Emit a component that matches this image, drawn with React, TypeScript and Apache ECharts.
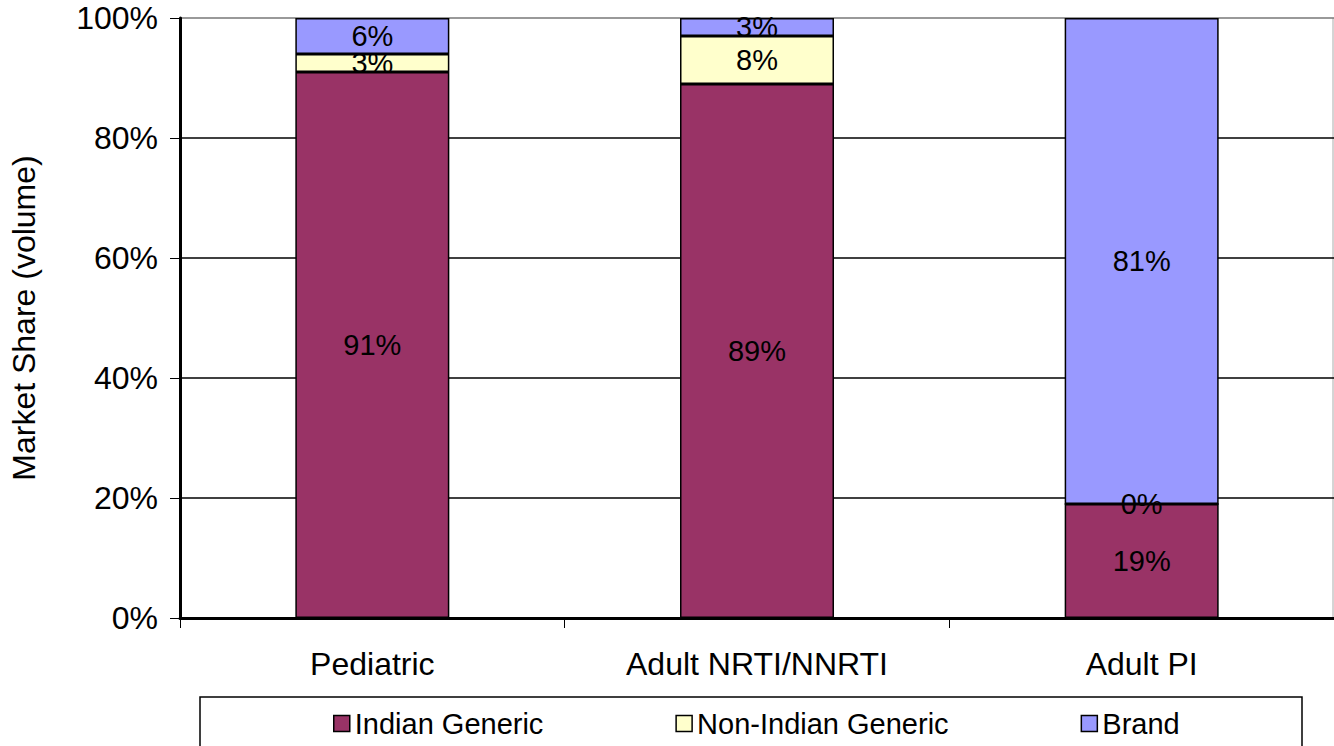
import React, { useEffect, useRef } from "react";
import * as echarts from "echarts";

const categories = ["Pediatric", "Adult NRTI/NNRTI", "Adult PI"];
const indianGeneric = [91, 89, 19];
const nonIndianGeneric = [3, 8, 0];
const brand = [6, 3, 81];
const seriesNames = ["Indian Generic", "Non-Indian Generic", "Brand"];
const colors = ["#993366", "#FFFFCC", "#9999FF"];

export default function App() {
  const ref = useRef<HTMLDivElement>(null);
  useEffect(() => {
    if (!ref.current) return;
    const chart = echarts.init(ref.current, undefined, { renderer: "svg" });
    const font = "Liberation Sans, Arial, sans-serif";
    const data = [indianGeneric, nonIndianGeneric, brand];
    chart.setOption({
      animation: false,
      textStyle: { fontFamily: font },
      grid: { left: 180, right: 0, top: 18, bottom: 128 },
      xAxis: {
        type: "category",
        data: categories,
        axisLine: { lineStyle: { color: "#000", width: 3 } },
        axisTick: { show: true, length: 10, lineStyle: { color: "#000", width: 1 } },
        axisLabel: { color: "#000", fontSize: 32, margin: 30, fontFamily: font },
      },
      yAxis: {
        type: "value",
        min: 0,
        max: 100,
        interval: 20,
        name: "Market Share (volume)",
        nameLocation: "middle",
        nameGap: 140,
        nameRotate: 90,
        nameTextStyle: { color: "#000", fontSize: 32, fontFamily: font },
        axisLine: { show: true, lineStyle: { color: "#000", width: 3 } },
        axisTick: { show: true, length: 10, lineStyle: { color: "#000", width: 1 } },
        axisLabel: { color: "#000", fontSize: 32, margin: 22, formatter: "{value}%", fontFamily: font },
        splitLine: {
          show: true,
          lineStyle: { color: ["#000", "#000", "#000", "#000", "#000", "#777"], width: 1.5 },
        },
      },
      legend: {
        show: true,
        left: 333,
        top: 709,
        padding: 0,
        itemGap: 132,
        itemWidth: 16,
        itemHeight: 16,
        icon: "rect",
        textStyle: { color: "#000", fontSize: 29, fontFamily: font },
        data: seriesNames.map((n, i) => ({
          name: n,
          itemStyle: { color: colors[i], borderColor: "#000", borderWidth: 1.5 },
        })),
      },
      graphic: [
        {
          type: "rect",
          shape: { x: 200, y: 697, width: 1102, height: 52 },
          style: { fill: "none", stroke: "#000", lineWidth: 1.5 },
          silent: true,
        },
        {
          type: "line",
          shape: { x1: 1333, y1: 18, x2: 1333, y2: 618 },
          style: { stroke: "#aaa", lineWidth: 1 },
          silent: true,
        },
      ],
      series: seriesNames.map((n, i) => ({
        name: n,
        type: "bar",
        stack: "total",
        barWidth: 154,
        data: data[i],
        itemStyle: { color: colors[i], borderColor: "#000", borderWidth: 1.5 },
        label: {
          show: true,
          position: "inside",
          formatter: "{c}%",
          color: "#000",
          fontSize: 29,
          fontFamily: font,
        },
      })),
    });
    return () => chart.dispose();
  }, []);
  return (
    <div
      ref={ref}
      style={{ position: "fixed", left: 0, top: 0, width: 1334, height: 746, background: "#fff" }}
    />
  );
}
